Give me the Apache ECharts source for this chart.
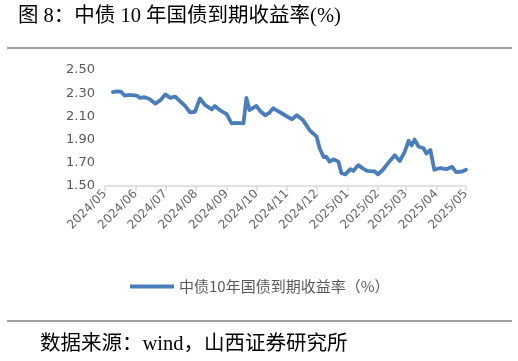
<!DOCTYPE html>
<html>
<head>
<meta charset="utf-8">
<script src="https://cdn.jsdelivr.net/npm/echarts@6/dist/echarts.min.js"></script>
<style>
html,body{margin:0;padding:0;background:#fff;}
#c{width:518px;height:361px;}
</style>
</head>
<body>
<div id="c"></div>
<script>
// ---- data ----
const dates = [
 '2024-05-09','2024-05-13','2024-05-17','2024-05-21','2024-05-26','2024-06-02','2024-06-05','2024-06-10','2024-06-15','2024-06-21',
 '2024-06-26','2024-07-01','2024-07-06','2024-07-11','2024-07-16','2024-07-21','2024-07-26','2024-07-31','2024-08-05','2024-08-10',
 '2024-08-17','2024-08-20','2024-08-25','2024-09-01','2024-09-06','2024-09-11','2024-09-18','2024-09-21','2024-09-24','2024-10-01',
 '2024-10-05','2024-10-10','2024-10-14','2024-10-18','2024-10-23','2024-10-30','2024-11-06','2024-11-11','2024-11-17','2024-11-24',
 '2024-12-01','2024-12-04','2024-12-08','2024-12-11','2024-12-14','2024-12-18','2024-12-23','2024-12-26','2024-12-30','2025-01-04',
 '2025-01-07','2025-01-12','2025-01-17','2025-01-21','2025-01-29','2025-02-01','2025-02-06','2025-02-11','2025-02-18','2025-02-23',
 '2025-02-28','2025-03-04','2025-03-07','2025-03-10','2025-03-14','2025-03-19','2025-03-22','2025-03-26','2025-03-30','2025-04-05',
 '2025-04-11','2025-04-17','2025-04-21','2025-04-27','2025-05-01'
];
const yields = [
 2.310,2.315,2.313,2.280,2.285,2.280,2.260,2.265,2.250,2.210,
 2.240,2.290,2.260,2.270,2.230,2.190,2.135,2.140,2.255,2.200,
 2.160,2.190,2.155,2.120,2.040,2.045,2.040,2.260,2.155,2.190,
 2.145,2.110,2.130,2.170,2.145,2.110,2.075,2.110,2.070,1.980,
 1.925,1.825,1.750,1.750,1.710,1.730,1.710,1.610,1.600,1.645,
 1.630,1.680,1.650,1.630,1.625,1.600,1.640,1.695,1.765,1.715,
 1.795,1.890,1.850,1.900,1.840,1.825,1.780,1.810,1.640,1.655,
 1.645,1.665,1.620,1.625,1.640
];
const monthTicks = ['2024/05','2024/06','2024/07','2024/08','2024/09','2024/10','2024/11','2024/12','2025/01','2025/02','2025/03','2025/04','2025/05'];
const seriesName = '中债10年国债到期收益率（%）';
const titleText = '图 8：中债 10 年国债到期收益率(%)';
const sourceText = '数据来源：wind，山西证券研究所';

// ---- build ----
const toTs = (y, m, d) => Date.UTC(y, m - 1, d);
const tickTs = monthTicks.map(s => { const p = s.split('/'); return toTs(+p[0], +p[1], 1); });
const tsLabel = {}; tickTs.forEach((t,i) => tsLabel[t] = monthTicks[i]);
const seriesData = dates.map((d,i) => { const p = d.split('-'); return [toTs(+p[0], +p[1], +p[2]), yields[i]]; });

const chart = echarts.init(document.getElementById('c'), null, {renderer:'canvas'});
const lab = '#595959';
chart.setOption({
  animation: false,
  backgroundColor: '#fff',
  grid: {left: 105, right: 52, top: 70, bottom: 175, containLabel: false},
  xAxis: {
    type: 'value',
    min: tickTs[0], max: tickTs[tickTs.length-1],
    axisLine: {show: true, lineStyle: {color: '#d9d9d9', width: 1.5}},
    axisTick: {show: true, length: 5, lineStyle: {color: '#d9d9d9', width: 1.5}, customValues: tickTs},
    axisLabel: {
      customValues: tickTs,
      rotate: 45, color: '#666666', fontSize: 12, margin: 6,
      fontFamily: 'DejaVu Sans, sans-serif',
      formatter: v => tsLabel[v] || ''
    },
    splitLine: {show: false}
  },
  yAxis: {
    type: 'value', min: 1.5, max: 2.5, interval: 0.2,
    axisLine: {show: false}, axisTick: {show: false},
    splitLine: {show: false},
    axisLabel: {color: lab, fontSize: 13, margin: 10,
      fontFamily: 'DejaVu Sans, sans-serif',
      formatter: v => v.toFixed(2)}
  },
  legend: {
    show: true, left: 125, top: 274,
    icon: 'rect', itemWidth: 44, itemHeight: 4, itemGap: 6,
    textStyle: {color: lab, fontSize: 15, fontFamily: 'Noto Sans CJK SC, sans-serif'},
    data: [seriesName]
  },
  series: [{
    name: seriesName, type: 'line', data: seriesData,
    showSymbol: false, symbol: 'none',
    lineStyle: {color: '#4a7ebb', width: 3.8, join: 'round', cap: 'round'},
    itemStyle: {color: '#4a7ebb'}
  }],
  graphic: [
    {type: 'text', left: 18, top: 6, style: {text: titleText, fill: '#000', fontSize: 20.5,
      fontFamily: 'Liberation Serif, Noto Sans CJK SC, serif'}},
    {type: 'line', shape: {x1: 7, y1: 48, x2: 512, y2: 48}, style: {stroke: '#7f7f7f', lineWidth: 1.5}},
    {type: 'line', shape: {x1: 7, y1: 321, x2: 512, y2: 321}, style: {stroke: '#7f7f7f', lineWidth: 1.5}},
    {type: 'text', left: 40, top: 334, style: {text: sourceText, fill: '#000', fontSize: 20.5,
      fontFamily: 'Liberation Serif, Noto Sans CJK SC, serif'}}
  ]
});
</script>
</body>
</html>
